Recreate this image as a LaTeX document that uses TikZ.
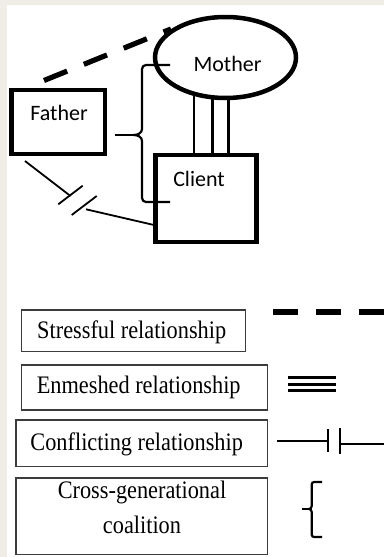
\documentclass[tikz,border=0pt]{standalone}
\usepackage{fontspec}
\setmainfont{Liberation Serif}
\newfontfamily\carlito{Carlito}
\newfontfamily\legfont[FakeStretch=0.885]{Liberation Serif}
\usetikzlibrary{shapes.geometric,calc}
\definecolor{bgbeige}{RGB}{240,237,231}
\definecolor{legline}{RGB}{60,60,60}
\begin{document}
\begin{tikzpicture}[x=1pt,y=-1pt,
  mainbox/.style={draw, rectangle, line width=4.5pt, inner sep=0pt, outer sep=0pt},
  mainell/.style={draw, ellipse, line width=4.5pt, inner sep=0pt, outer sep=0pt},
  maintext/.style={font=\carlito\fontsize{22}{26}\selectfont, inner sep=0pt, anchor=base},
  legbox/.style={draw=legline, rectangle, line width=1.5pt, inner sep=0pt, outer sep=0pt},
  legtext/.style={font=\legfont\fontsize{25.2}{35}\selectfont, inner sep=0pt, align=center},
  stressline/.style={line width=5.2pt, dash pattern=on 25pt off 18pt},
  enmline/.style={line width=2.6pt},
  confline/.style={line width=1.8pt},
  braceline/.style={line width=2.2pt}
]
\useasboundingbox (0,0) rectangle (384,557);
\fill[bgbeige] (0,0) rectangle (384,557);
\fill[white] (7,5) rectangle (384,557);

% main figure
\node[mainbox, minimum width=93.5pt, minimum height=64.4pt] (father) at (58.25,122) {};
\node[maintext] (fathertext) at (59,120.7) {Father};
\node[mainbox, minimum width=100.8pt, minimum height=87.2pt] (client) at (205.9,198.6) {};
\node[maintext] (clienttext) at (199,186.7) {Client};
\node[mainell, minimum width=141pt, minimum height=81pt] (mother) at (225.5,57.5) {};
\node[maintext] (mothertext) at (227.5,71.7) {Mother};

% stressful (dashed) father - mother
\coordinate (dsA) at (44,80.5);
\coordinate (dsB) at (171,29);
\draw[stressline] (dsA) -- (dsB);

% enmeshed mother - client
\foreach \a in {-131,-108.35,-86.9}
  \draw[enmline] (mother.\a) -- (mother.\a |- client.north);

% cross-generational coalition brace
\coordinate (brM) at (170,65);
\coordinate (brC) at (170,202);
\coordinate (brF) at (115,135);
\coordinate (brTip) at (134,135);
\draw[braceline] (brM) -- (146,65) to[out=180,in=90] (142,69) -- (142,129)
   to[out=-90,in=0] (brTip) to[out=0,in=90] (142,141) -- (142,198)
   to[out=-90,in=180] (146,202) -- (brC);
\draw[braceline] (brF) -- (brTip);

% conflicting father - client
\coordinate (cfA) at (25,161);
\coordinate (cfB) at (70.5,196);
\coordinate (cb1a) at (58.3,204.3);
\coordinate (cb1b) at (82.7,185.7);
\coordinate (cb2a) at (71.7,215);
\coordinate (cb2b) at (96.7,196);
\coordinate (cfC) at (86,209.3);
\coordinate (cfD) at (154,225);
\draw[confline] (cfA) -- (cfB);
\draw[confline] (cb1a) -- (cb1b);
\draw[confline] (cb2a) -- (cb2b);
\draw[confline] (cfC) -- (cfD);

% legend
\node[legbox, minimum width=223.8pt, minimum height=41.5pt] (lb1) at (133.35,330.8) {};
\node[legtext, anchor=base] (lt1) at (131.7,338.3) {Stressful relationship};
\node[legbox, minimum width=246.1pt, minimum height=45.2pt] (lb2) at (144.5,387.35) {};
\node[legtext, anchor=base] (lt2) at (138.7,393.3) {Enmeshed relationship};
\node[legbox, minimum width=251.8pt, minimum height=46.5pt] (lb3) at (141.65,443.3) {};
\node[legtext, anchor=base] (lt3) at (136.7,450) {Conflicting relationship};
\node[legbox, minimum width=251.8pt, minimum height=76.2pt] (lb4) at (141.65,516.15) {};
\node[legtext] (lt4) at (142,507.2) {Cross-generational\\coalition};

% legend symbols
\coordinate (lsA) at (273,312);
\coordinate (lsB) at (384,312);
\draw[stressline] (lsA) -- (lsB);

\coordinate (le1a) at (288,377.5); \coordinate (le1b) at (336,377.5);
\coordinate (le2a) at (288,384);   \coordinate (le2b) at (336,384);
\coordinate (le3a) at (288,390.5); \coordinate (le3b) at (336,390.5);
\draw[line width=3pt] (le1a) -- (le1b);
\draw[line width=3pt] (le2a) -- (le2b);
\draw[line width=3pt] (le3a) -- (le3b);

\coordinate (lc1) at (277,440.7); \coordinate (lc2) at (327.7,440.7);
\coordinate (lcb1a) at (327.7,429); \coordinate (lcb1b) at (327.7,452);
\coordinate (lcb2a) at (340,428); \coordinate (lcb2b) at (340,454);
\coordinate (lc3) at (340,444); \coordinate (lc4) at (384,444);
\draw[confline] (lc1) -- (lc2);
\draw[line width=2.2pt] (lcb1a) -- (lcb1b);
\draw[line width=2.2pt] (lcb2a) -- (lcb2b);
\draw[confline] (lc3) -- (lc4);

\coordinate (lbT) at (322,482);
\coordinate (lbB) at (322,537);
\coordinate (lbTip) at (302,509);
\draw[braceline] (lbT) -- (314,482) to[out=180,in=90] (311.7,484.5) -- (311.7,506)
  to[out=-90,in=0] (309,509) to[out=0,in=90] (311.7,512) -- (311.7,534.5)
  to[out=-90,in=180] (314,537) -- (lbB);
\draw[braceline] (lbTip) -- (309,509);
\end{tikzpicture}
\end{document}
